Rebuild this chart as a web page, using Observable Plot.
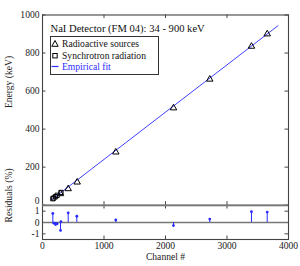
<!DOCTYPE html>
<html>
<head>
<meta charset="utf-8">
<script src="https://cdn.jsdelivr.net/npm/d3@7"></script>
<script src="https://cdn.jsdelivr.net/npm/@observablehq/plot@0.6"></script>
<style>
  body { margin: 0; background: white; }
  #wrap { position: relative; width: 300px; height: 266px; font-family: "Liberation Serif", "DejaVu Serif", serif; }
  #wrap svg { position: absolute; left: 0; overflow: visible; background: transparent; }
  #wrap svg text { font-family: "Liberation Serif", "DejaVu Serif", serif !important; }
  #legend { position: absolute; left: 50px; top: 36px; width: 109px; height: 39px; border: 1px solid #333;
            background: white; font-size: 9.6px; box-sizing: border-box; }
  .row { position: absolute; left: 0; height: 11px; line-height: 11px; white-space: nowrap; }
  .row svg { position: absolute; left: 2px; top: 1px; }
  .row span { position: absolute; left: 11px; }
</style>
</head>
<body>
<div id="wrap"></div>
<script>
// ---- data ----
const title = "NaI Detector (FM 04): 34 - 900 keV";
const radioChannel = [293, 418, 564, 1192, 2130, 2720, 3398, 3654];
const radioEnergy  = [60, 86, 121, 279, 511, 662, 835, 900];
const synchChannel = [168, 184, 211, 238, 300];
const synchEnergy  = [34, 38, 45, 52, 67];
const fitChannel = [140, 3830];
const fitEnergy  = [27, 944];
const resChannel = [168, 184, 211, 238, 293, 300, 418, 558, 1192, 2130, 2720, 3398, 3654];
const resValue   = [0.8, -0.06, -0.18, -0.12, -0.7, 0.08, 0.85, 0.55, 0.22, -0.27, 0.3, 0.95, 0.92];
const xTicks = [0, 1000, 2000, 3000, 4000];
const yTicks = [0, 200, 400, 600, 800, 1000];
const rTicks = [-1, 0, 1];
const legendLabels = ["Radioactive sources", "Synchrotron radiation", "Empirical fit"];

const blue = "#2a2aff";
const frameColor = "#444";
const font = "'Liberation Serif', 'DejaVu Serif', serif";
const fmt = d => String(d);

const radio = radioChannel.map((c, i) => ({c, e: radioEnergy[i]}));
const synch = synchChannel.map((c, i) => ({c, e: synchEnergy[i]}));
const fit = fitChannel.map((c, i) => ({c, e: fitEnergy[i]}));
const res = resChannel.map((c, i) => ({c, v: resValue[i]}));

const W = 300, ML = 42, MR = 12;
const pxX = (W - ML - MR) / 4000; // px per channel
const tickPx = 3.5;

// main panel
const mainTop = 14.5, mainH = 190.2;
const pxY = mainH / 1000;
const main = Plot.plot({
  width: W, height: mainTop + mainH, marginLeft: ML, marginRight: MR, marginTop: mainTop, marginBottom: 0,
  x: {domain: [0, 4000], axis: null},
  y: {domain: [0, 1000], axis: null},
  style: {fontFamily: font, fontSize: "9.6px", background: "transparent", overflow: "visible"},
  marks: [
    Plot.axisY(yTicks.filter(d => d > 0), {anchor: "left", tickSize: 0, tickPadding: 3, label: null, fill: "#222", tickFormat: fmt}),
    Plot.axisY(yTicks.filter(d => d === 0), {anchor: "left", tickSize: 0, tickPadding: 3, label: null, fill: "#222", tickFormat: fmt, dy: -4}),
    Plot.ruleY(yTicks, {y: d => d, x1: 0, x2: tickPx / pxX, stroke: frameColor}),
    Plot.ruleY(yTicks, {y: d => d, x1: 4000 - tickPx / pxX, x2: 4000, stroke: frameColor}),
    Plot.ruleX(xTicks, {x: d => d, y1: 1000 - tickPx / pxY, y2: 1000, stroke: frameColor}),
    Plot.ruleX(xTicks, {x: d => d, y1: 0, y2: tickPx / pxY, stroke: frameColor}),
    Plot.line(fit, {x: "c", y: "e", stroke: blue, strokeWidth: 0.9}),
    Plot.dot(synch, {x: "c", y: "e", symbol: "square", r: 2.4, stroke: "black", strokeWidth: 1}),
    Plot.dot(radio, {x: "c", y: "e", symbol: "triangle", r: 2.4, stroke: "black", strokeWidth: 1}),
    Plot.frame({stroke: frameColor, strokeWidth: 1.1}),
    Plot.text([title], {text: d => d, frameAnchor: "top-left", dx: 8, dy: 13.5, lineAnchor: "middle",
      textAnchor: "start", fontSize: 10.6, fill: "#111"}),
    Plot.text(["Energy (keV)"], {text: d => d, frameAnchor: "left", dx: -34, dy: -2, rotate: -90,
      lineAnchor: "middle", fontSize: 9.6, fill: "#222"})
  ]
});
main.style.top = "0px";

// residual panel
const resTop = mainTop + mainH, resH = 34, resBottom = 27.5;
const pxR = resH / 3;
const resid = Plot.plot({
  width: W, height: resH + resBottom, marginLeft: ML, marginRight: MR, marginTop: 0, marginBottom: resBottom,
  x: {domain: [0, 4000], axis: null},
  y: {domain: [-1.5, 1.5], axis: null},
  style: {fontFamily: font, fontSize: "9.6px", background: "transparent", overflow: "visible"},
  marks: [
    Plot.axisY(rTicks, {anchor: "left", tickSize: 0, tickPadding: 3, label: null, fill: "#222", tickFormat: fmt}),
    Plot.axisX(xTicks, {anchor: "bottom", tickSize: 0, tickPadding: 3, label: null, fill: "#222", tickFormat: fmt}),
    Plot.ruleY(rTicks, {y: d => d, x1: 0, x2: tickPx / pxX, stroke: frameColor}),
    Plot.ruleY(rTicks, {y: d => d, x1: 4000 - tickPx / pxX, x2: 4000, stroke: frameColor}),
    Plot.ruleX(xTicks, {x: d => d, y1: 1.5 - tickPx / pxR, y2: 1.5, stroke: frameColor}),
    Plot.ruleX(xTicks, {x: d => d, y1: -1.5, y2: -1.5 + tickPx / pxR, stroke: frameColor}),
    Plot.ruleY([0], {stroke: "#777", strokeWidth: 1.5}),
    Plot.ruleX(res, {x: "c", y1: 0, y2: "v", stroke: blue, strokeWidth: 1}),
    Plot.dot(res, {x: "c", y: "v", r: 1.4, fill: blue, stroke: "none"}),
    Plot.frame({stroke: frameColor, strokeWidth: 1.1}),
    Plot.ruleY([1.5], {stroke: "#777", strokeWidth: 1.6}),
    Plot.text(["Residuals (%)"], {text: d => d, frameAnchor: "left", dx: -34, rotate: -90,
      lineAnchor: "middle", fontSize: 9.6, fill: "#222"}),
    Plot.text(["Channel #"], {text: d => d, frameAnchor: "bottom", dy: 17.5, lineAnchor: "middle",
      fontSize: 9.6, fill: "#222"})
  ]
});
resid.style.top = resTop + "px";

const wrap = document.getElementById("wrap");
wrap.appendChild(main);
wrap.appendChild(resid);

// legend (HTML overlay inside the main panel)
const legend = document.createElement("div");
legend.id = "legend";
const icons = [
  `<svg width="8" height="9"><path d="M4,1.5 L7.2,7.3 L0.8,7.3 Z" fill="none" stroke="black" stroke-width="1"/></svg>`,
  `<svg width="8" height="9"><rect x="1.8" y="2.5" width="4.4" height="4.4" fill="none" stroke="black" stroke-width="1"/></svg>`,
  `<svg width="8" height="9"><line x1="0.5" y1="4.5" x2="7.5" y2="4.5" stroke="${blue}" stroke-width="1.2"/></svg>`
];
const colors = ["#111", "#111", blue];
legendLabels.forEach((t, i) => {
  const row = document.createElement("div");
  row.className = "row";
  row.style.top = (1 + i * 11.5) + "px";
  row.innerHTML = icons[i] + `<span style="color:${colors[i]}">${t}</span>`;
  legend.appendChild(row);
});
wrap.appendChild(legend);
</script>
</body>
</html>
